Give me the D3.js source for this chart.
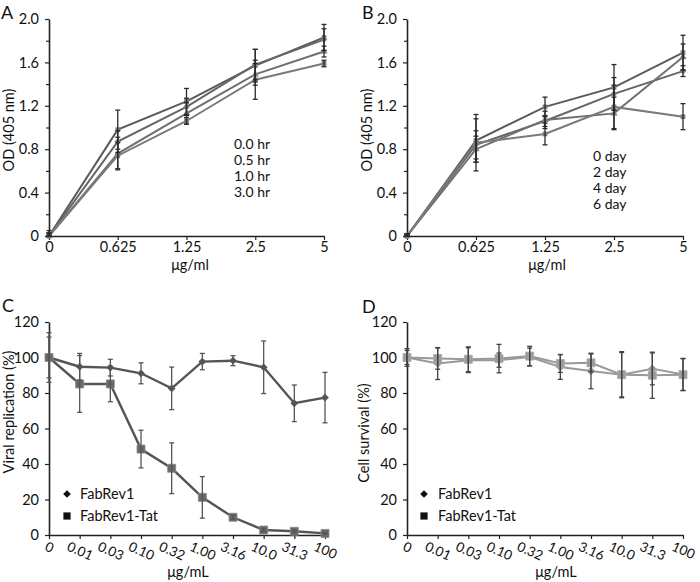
<!DOCTYPE html>
<html><head><meta charset="utf-8">
<script src="https://cdn.jsdelivr.net/npm/d3@7"></script>
<style>
body{margin:0;background:#fff}
svg{display:block;font-family:Lato,"Open Sans",sans-serif}
</style></head><body>
<svg id="chart" width="700" height="582"></svg>
<script>
// ---------- DATA ----------
const doseAB = ["0","0.625","1.25","2.5","5"];
const yTicksAB = [0,0.4,0.8,1.2,1.6,2.0];
const yTickLabelsAB = ["0","0.4","0.8","1.2","1.6","2.0"];
const yMinorAB = [0.2,0.6,1.0,1.4,1.8];

const legendA = ["0.0 hr","0.5 hr","1.0 hr","3.0 hr"];
const a1 = [0,0.98,1.24,1.57,1.83], a1Err = [0.02,0.18,0.12,0.15,0.12];
const a2 = [0,0.87,1.19,1.58,1.81], a2Err = [0.03,0.10,0.08,0.14,0.10];
const a3 = [0,0.76,1.13,1.49,1.70], a3Err = [0.05,0.15,0.10,0.10,0.05];
const a4 = [0,0.74,1.06,1.44,1.59], a4Err = [0.03,0.12,0.03,0.18,0.03];

const legendB = ["0 day","2 day","4 day","6 day"];
const b1 = [0,0.88,1.19,1.37,1.69], b1Err = [0.02,0.20,0.09,0.21,0.16];
const b2 = [0,0.84,1.06,1.31,1.52], b2Err = [0.02,0.13,0.05,0.15,0.05];
const b3 = [0,0.80,1.07,1.13,1.65], b3Err = [0.02,0.12,0.08,0.15,0.12];
const b4 = [0,0.86,0.94,1.19,1.10], b4Err = [0.02,0.26,0.10,0.20,0.12];

const doseCD = ["0","0.01","0.03","0.10","0.32","1.00","3.16","10.0","31.3","100"];
const yTicksCD = [0,20,40,60,80,100,120];
const seriesCD = ["FabRev1","FabRev1-Tat"];

const cRev = [100,94.8,94.3,91.1,82.6,97.7,98.2,94.5,74.2,77.4];
const cRevErr = [14,7.5,4.7,5.9,12,4.6,2.8,14.8,10.3,14.2];
const cTat = [100,85.1,85.1,48.4,37.6,21.2,10,2.8,2.1,0.9];
const cTatErr = [11.5,16,10,10.6,14.3,11.7,1.2,0.8,0.6,0.4];

const dRev = [100,96.6,98.5,98.5,100.3,94.7,92.4,90.3,93.6,90.5];
const dRevErr = [4,9,7,4,5,7,10,12.5,9,9];
const dTat = [100,99.4,99,99.4,100.8,96.6,97,90.3,90,90.3];
const dTatErr = [5,6,7,8,5.5,5,5,13,13,9];

// ---------- DRAW ----------
const FS = 14.5;
const svg = d3.select("#chart");
const defs = svg.append("defs");
defs.append("filter").attr("id","soft").attr("x","-20%").attr("y","-20%").attr("width","140%").attr("height","140%")
  .append("feGaussianBlur").attr("stdDeviation",0.45);

function panel(cfg){
  const g = svg.append("g");
  const x = d3.scalePoint().domain(cfg.cats).range(cfg.xr);
  const y = d3.scaleLinear().domain(cfg.yd).range(cfg.yr);

  const yAx = g.append("g").attr("transform",`translate(${cfg.xr[0]},0)`)
    .call(d3.axisLeft(y).tickValues(cfg.yTicks).tickFormat((d,i)=>cfg.yLabels[i])
      .tickSize(4).tickSizeOuter(0).tickPadding(6));
  if (cfg.yMinor){
    g.append("g").attr("transform",`translate(${cfg.xr[0]},0)`)
      .call(d3.axisLeft(y).tickValues(cfg.yMinor).tickFormat("").tickSize(3).tickSizeOuter(0))
      .select(".domain").remove();
  }
  const xAx = g.append("g").attr("transform",`translate(0,${cfg.yr[0]})`)
    .call(d3.axisBottom(x).tickSize(4).tickSizeOuter(0).tickPadding(2));
  [yAx,xAx].forEach(a=>{
    a.select(".domain").attr("stroke","#222").attr("stroke-width",1.6);
    a.selectAll(".tick line").attr("stroke","#222").attr("stroke-width",1.2);
    a.selectAll("text").attr("font-size",FS).attr("fill","#111").attr("font-family","Lato");
  });
  if (cfg.rotate){
    const ang = 24*Math.PI/180;
    xAx.selectAll(".tick text").attr("font-size",13.5).each(function(){
      const t = d3.select(this);
      const w = this.getComputedTextLength();
      const off = 6 + (w/2)*Math.sin(ang) + 5*Math.cos(ang);
      t.attr("y",0).attr("dy","0.35em").attr("text-anchor","middle")
       .attr("transform",`translate(0,${off}) rotate(24)`);
    });
  }

  const soft = g.append("g").attr("filter","url(#soft)");
  const line = d3.line().x((d,i)=>x(cfg.cats[i])).y(d=>y(d));
  cfg.series.forEach(s=>{
    soft.append("path").datum(s.v).attr("d",line).attr("fill","none")
      .attr("stroke",s.lineColor).attr("stroke-width",s.lw);
  });
  cfg.series.forEach(s=>{
    s.v.forEach((v,i)=>{
      const cx = x(cfg.cats[i]);
      const e = s.e[i];
      const y1 = y(v+e), y0 = y(Math.max(cfg.yd[0], v-e));
      const eb = g.append("g").attr("stroke",s.errColor).attr("stroke-width",1.3);
      eb.append("line").attr("x1",cx).attr("x2",cx).attr("y1",y1).attr("y2",y0);
      eb.append("line").attr("x1",cx-2.5).attr("x2",cx+2.5).attr("y1",y1).attr("y2",y1);
      eb.append("line").attr("x1",cx-2.5).attr("x2",cx+2.5).attr("y1",y0).attr("y2",y0);
    });
  });
  cfg.series.forEach(s=>{
    const sym = d3.symbol().type(s.shape==="tri"?d3.symbolTriangle:d3.symbolSquare).size(s.size);
    soft.selectAll(null).data(s.v).enter().append("path")
      .attr("d",sym)
      .attr("transform",(d,i)=>`translate(${x(cfg.cats[i])},${y(d)})${s.shape==="diamond"?" rotate(45)":""}`)
      .attr("fill",s.fill).attr("stroke",s.stroke||"none").attr("stroke-width",0.8);
  });

  svg.append("text").attr("x",cfg.letter[1]).attr("y",cfg.letter[2]).attr("font-size",18)
    .attr("fill","#111").text(cfg.letter[0]);
  svg.append("text").attr("transform",`translate(${cfg.yTitle[1]},${cfg.yTitle[2]}) rotate(-90)`)
    .attr("text-anchor","middle").attr("font-size",FS).attr("fill","#111").text(cfg.yTitle[0]);
  svg.append("text").attr("x",cfg.xTitle[1]).attr("y",cfg.xTitle[2]).attr("text-anchor","middle")
    .attr("font-size",FS).attr("fill","#111").text(cfg.xTitle[0]);
  return {x,y,g};
}

const grayAB = ["#5a5a5a","#666","#707070","#7a7a7a"];
const shapesAB = ["square","diamond","tri","square"];
function abSeries(vals, errs){
  return vals.map((v,k)=>({v, e:errs[k], lineColor:grayAB[k], lw:2, errColor:"#2b2b2b",
    shape:shapesAB[k], size:22, fill:"#7d7d7d"}));
}

panel({cats:doseAB, xr:[49,324], yd:[0,2], yr:[236,19], yTicks:yTicksAB, yLabels:yTickLabelsAB, yMinor:yMinorAB,
  series:abSeries([a1,a2,a3,a4],[a1Err,a2Err,a3Err,a4Err]),
  letter:["A",1,19], yTitle:["OD (405 nm)",14,130], xTitle:["μg/ml",190,270]});
panel({cats:doseAB, xr:[407,683], yd:[0,2], yr:[236,19], yTicks:yTicksAB, yLabels:yTickLabelsAB, yMinor:yMinorAB,
  series:abSeries([b1,b2,b3,b4],[b1Err,b2Err,b3Err,b4Err]),
  letter:["B",362,19], yTitle:["OD (405 nm)",372,130], xTitle:["μg/ml",547,270]});

legendA.forEach((t,i)=>svg.append("text").attr("x",234).attr("y",149+i*16).attr("font-size",14).attr("fill","#111").text(t));
legendB.forEach((t,i)=>svg.append("text").attr("x",593).attr("y",161+i*16).attr("font-size",14).attr("fill","#111").text(t));

const yLabCD = yTicksCD.map(String);
panel({cats:doseCD, xr:[49,325], yd:[0,120], yr:[535,322], yTicks:yTicksCD, yLabels:yLabCD, rotate:true,
  series:[
    {v:cRev, e:cRevErr, lineColor:"#555", lw:2.4, errColor:"#555", shape:"diamond", size:30, fill:"#555"},
    {v:cTat, e:cTatErr, lineColor:"#555", lw:2.4, errColor:"#555", shape:"square", size:64, fill:"#676767", stroke:"#8a8a8a"}
  ],
  letter:["C",2,312], yTitle:["Viral replication (%)",14,412], xTitle:["μg/mL",188,577]});
panel({cats:doseCD, xr:[407,683], yd:[0,120], yr:[535,322], yTicks:yTicksCD, yLabels:yLabCD, rotate:true,
  series:[
    {v:dRev, e:dRevErr, lineColor:"#999", lw:2, errColor:"#444", shape:"diamond", size:36, fill:"#999"},
    {v:dTat, e:dTatErr, lineColor:"#999", lw:2, errColor:"#444", shape:"square", size:64, fill:"#9c9c9c", stroke:"#aaa"}
  ],
  letter:["D",362,313], yTitle:["Cell survival (%)",369,433], xTitle:["μg/mL",556,577]});

[[67,80],[424,438]].forEach(([mx,tx])=>{
  svg.append("path").attr("d",d3.symbol().type(d3.symbolSquare).size(30)())
    .attr("transform",`translate(${mx},494) rotate(45)`).attr("fill","#111");
  svg.append("path").attr("d",d3.symbol().type(d3.symbolSquare).size(52)())
    .attr("transform",`translate(${mx},516)`).attr("fill","#111");
  svg.append("text").attr("x",tx).attr("y",499).attr("font-size",FS).attr("fill","#111").text(seriesCD[0]);
  svg.append("text").attr("x",tx).attr("y",521).attr("font-size",FS).attr("fill","#111").text(seriesCD[1]);
});
</script>
</body></html>
